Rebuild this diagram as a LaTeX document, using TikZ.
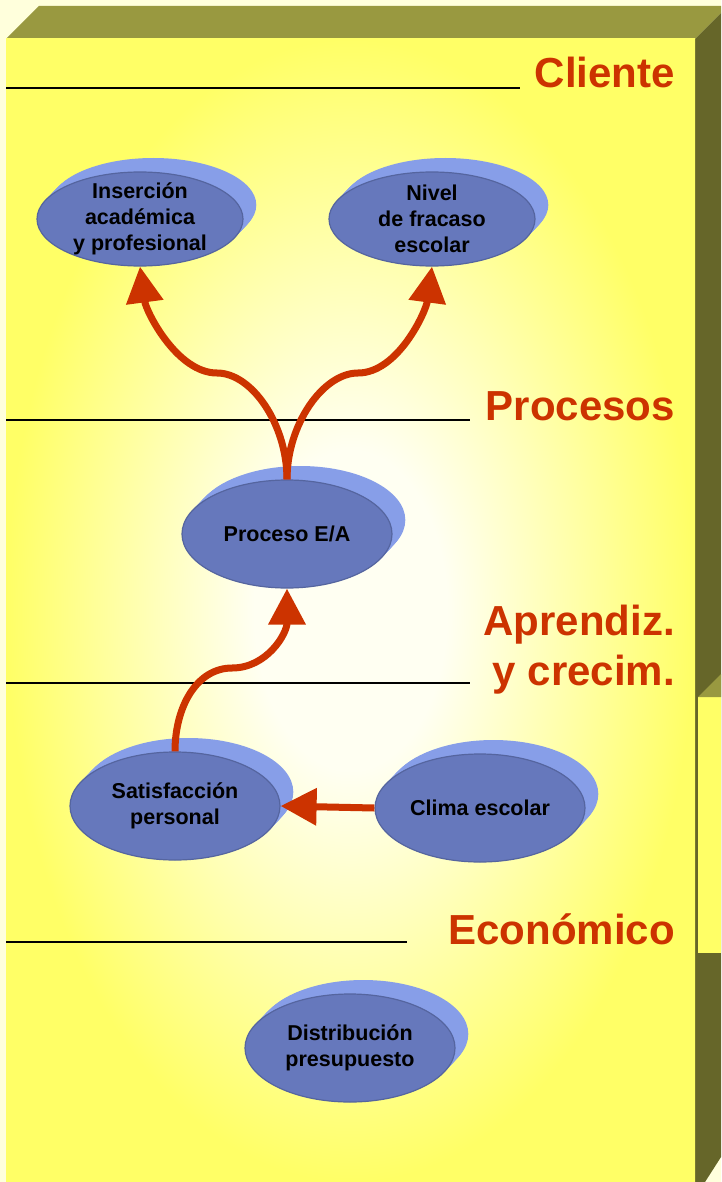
\documentclass[tikz,border=0pt]{standalone}
\usepackage{fontspec}
\setmainfont{Liberation Sans}
\usepackage{xcolor}
\definecolor{bscCream}{HTML}{FFFFDC}
\definecolor{bscOlive}{HTML}{999940}
\definecolor{bscOliveDark}{HTML}{666629}
\definecolor{bscYellow}{HTML}{FFFF66}
\definecolor{bscPale}{HTML}{FFFFF2}
\definecolor{bscRed}{HTML}{CC3300}
\definecolor{bscDisk}{HTML}{6678BC}
\definecolor{bscDiskEdge}{HTML}{55659F}
\definecolor{bscDiskSide}{HTML}{879EE8}
\usepackage{tikz}
\usetikzlibrary{calc,arrows.meta,shapes.geometric}
\pgfdeclarelayer{box}
\pgfdeclarelayer{rim}
\pgfsetlayers{box,rim,main}
\pgfdeclareradialshading{facelight}{\pgfpoint{0bp}{0bp}}{color(0bp)=(bscPale);color(7bp)=(bscPale);color(25bp)=(bscYellow);color(50bp)=(bscYellow)}

\begin{document}
\begin{tikzpicture}[x=1pt, y=-1pt,
    disk/.style={ellipse, fill=bscDisk, draw=bscDiskEdge, line width=1.2pt, minimum width=210pt, minimum height=108pt, inner sep=-14pt, align=center, font=\bfseries\fontsize{21.5}{26}\selectfont},
    flatdisk/.style={disk, minimum width=206pt, minimum height=94pt},
    lane/.style={anchor=base east, inner sep=0pt, text=bscRed, align=right, font=\bfseries\fontsize{42}{50}\selectfont},
    sepline/.style={line width=2.5pt, black},
    flow/.style={-{Triangle[length=36pt,width=36pt]}, line width=7pt, bscRed}
  ]
    \useasboundingbox (0,0) rectangle (721,1182);

    % perspectives
    \node[lane] (cli) at (675,88) {Cliente};
    \node[lane] (pro) at (675,420) {Procesos};
    \node[lane] (apr) at (675,685) {Aprendiz.\\y crecim.};
    \node[lane] (eco) at (675,944) {Económico};
    \draw[sepline] (6,88) -- (520,88);
    \draw[sepline] (6,420) -- (470,420);
    \draw[sepline] (6,683) -- (470,683);
    \draw[sepline] (6,942) -- (407,942);

    % objectives
    \node[flatdisk] (ins) at (140,219) {Inserción\\académica\\y profesional};
    \node[flatdisk] (niv) at (432,219) {Nivel\\de fracaso\\escolar};
    \node[disk] (proc) at (287,534) {Proceso E/A};
    \node[disk] (sat) at (175,806) {Satisfacción\\personal};
    \node[disk] (clima) at (480,808) {Clima escolar};
    \node[disk] (dist) at (350,1048) {Distribución\\presupuesto};

    % cause and effect
    \coordinate (bendl) at (217,373);
    \coordinate (bendr) at (358,373);
    \coordinate (bendm) at (232,668);
    \draw[flow] (proc.north) .. controls +(0,-55) and +(35,0) .. (bendl) .. controls +(-40,0) and +(6,45) .. (ins.south);
    \draw[flow] (proc.north) .. controls +(0,-55) and +(-35,0) .. (bendr) .. controls +(40,0) and +(-6,45) .. (niv.south);
    \draw[flow] (sat.north) .. controls +(0,-45) and +(-35,0) .. (bendm) .. controls +(35,0) and +(0,45) .. (proc.south);
    \draw[flow] (clima.west) -- (sat.east);

    \begin{pgfonlayer}{rim}
      \foreach \d/\rx/\ry in {ins/103/47, niv/103/47, proc/105/54, sat/105/54, clima/105/54, dist/105/54}
        \foreach \k in {1,...,14}
          \fill[bscDiskSide] ($(\d)+(0.95*\k,-\k)$) ellipse[x radius=\rx pt, y radius=\ry pt];
    \end{pgfonlayer}

    \begin{pgfonlayer}{box}
      \fill[bscCream] (0,0) rectangle (721,1182);
      \fill[bscOlive] (6,39) -- (39,6) -- (721,6) -- (721,13) -- (695,39) -- cycle;
      \fill[bscOliveDark] (695,39) -- (721,13) -- (721,1157) -- (705,1182) -- (695,1182) -- cycle;
      \fill[bscYellow] (698,697) rectangle (721,953);
      \fill[bscOlive] (698,697) -- (721,674) -- (721,697) -- cycle;
      \shade[shading=facelight] (6,39) rectangle (695,1182);
    \end{pgfonlayer}
  \end{tikzpicture}
\end{document}
